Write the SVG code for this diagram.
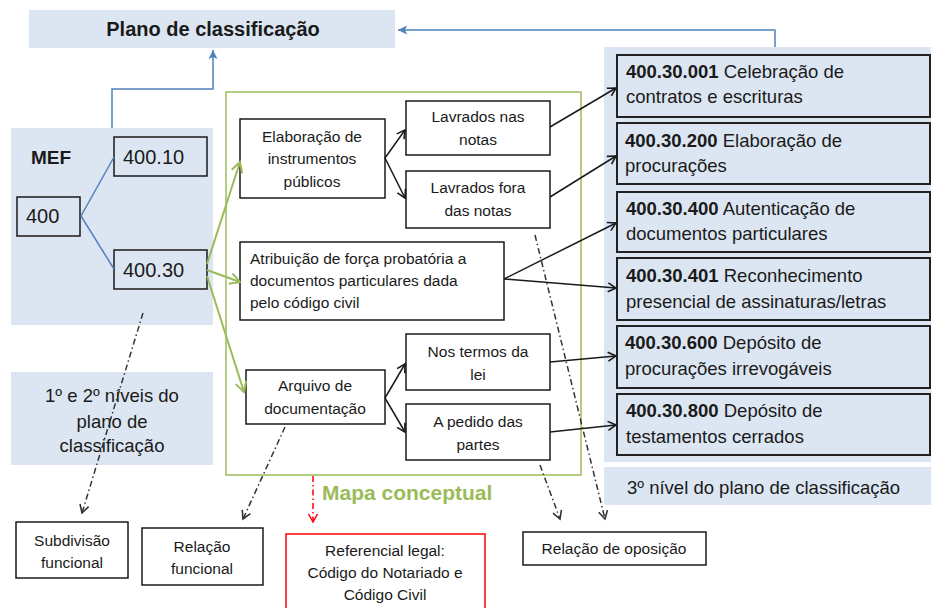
<svg xmlns="http://www.w3.org/2000/svg" width="931" height="608" viewBox="0 0 931 608">
<defs>
<style>
.panel{fill:#DCE6F2;stroke:none}
.box{fill:#fff;stroke:#1a1a1a;stroke-width:1.5}
.rbox{fill:none;stroke:#222;stroke-width:2}
.t{font-family:"Liberation Sans",Arial,sans-serif;font-size:15.5px;fill:#1a1a1a}
.tc{text-anchor:middle}
.r{font-family:"Liberation Sans",Arial,sans-serif;font-size:18.5px;fill:#1a1a1a}
.b{font-weight:bold}
.blk{stroke:#1a1a1a;stroke-width:1.5;fill:none}
.grn{stroke:#9BBB59;stroke-width:2;fill:none}
.blu{stroke:#4F81BD;stroke-width:1.5;fill:none}
.dd{stroke:#333;stroke-width:1.5;fill:none;stroke-dasharray:6,3,1.5,3}
.rd{stroke:#FF0000;stroke-width:1.5;fill:none;stroke-dasharray:6,3,1.5,3}
</style>
<marker id="aBlk" markerUnits="userSpaceOnUse" markerWidth="12" markerHeight="12" refX="10" refY="6" orient="auto"><path d="M2,1.5 L10,6 L2,10.5" fill="none" stroke="#1a1a1a" stroke-width="1.6"/></marker>
<marker id="aGrn" markerUnits="userSpaceOnUse" markerWidth="14" markerHeight="14" refX="12" refY="7" orient="auto"><path d="M2,1.5 L12,7 L2,12.5" fill="none" stroke="#9BBB59" stroke-width="2"/></marker>
<marker id="aBlu" markerUnits="userSpaceOnUse" markerWidth="12" markerHeight="12" refX="10" refY="6" orient="auto"><path d="M1,1.5 L10,6 L1,10.5 L3,6 Z" fill="#4F81BD"/></marker>
<marker id="aDd" markerUnits="userSpaceOnUse" markerWidth="12" markerHeight="12" refX="10" refY="6" orient="auto"><path d="M2,1.5 L10,6 L2,10.5" fill="none" stroke="#333" stroke-width="1.6"/></marker>
<marker id="aRd" markerUnits="userSpaceOnUse" markerWidth="12" markerHeight="12" refX="10" refY="6" orient="auto"><path d="M2,1.5 L10,6 L2,10.5" fill="none" stroke="#FF0000" stroke-width="1.5"/></marker>
</defs>
<rect width="931" height="608" fill="#fff"/>

<g id="plano">
<rect class="panel" x="29" y="10" width="366" height="38"/>
<text class="t b tc" x="213" y="36" style="font-size:20px">Plano de classificação</text>
</g>
<g id="mef-panel">
<rect class="panel" x="11" y="128" width="202" height="197"/>
<text class="t b" x="31" y="164" style="font-size:19px">MEF</text>
</g>
<g id="niveis12">
<rect class="panel" x="11" y="372" width="202" height="93"/>
<text class="r tc" x="112" y="402">1º  e 2º níveis do</text>
<text class="r tc" x="112" y="428">plano de</text>
<text class="r tc" x="112" y="452">classificação</text>
</g>
<g id="nivel3-panel">
<rect class="panel" x="604" y="47" width="327" height="415"/>
</g>
<g id="nivel3-label">
<rect class="panel" x="604" y="467" width="327" height="38"/>
<text class="r" x="627" y="494">3º nível do plano de classificação</text>
</g>

<g id="mapa">
<rect x="226" y="92" width="355" height="383" fill="none" stroke="#9BBB59" stroke-width="1.5"/>
<text class="t b" x="322" y="500" style="font-size:21px;fill:#9BBB59">Mapa conceptual</text>
</g>

<g id="n400"><rect class="box" x="17" y="197" width="63" height="39" style="fill:none"/><text class="t" x="26" y="223" style="font-size:20px">400</text></g>
<g id="n400-10"><rect class="box" x="114" y="137" width="93" height="39" style="fill:none"/><text class="t" x="123" y="164" style="font-size:20px">400.10</text></g>
<g id="n400-30"><rect class="box" x="114" y="250" width="93" height="39" style="fill:none"/><text class="t" x="123" y="277" style="font-size:20px">400.30</text></g>

<g id="elaboracao"><rect class="box" x="240" y="119" width="145" height="79"/>
<text class="t tc" x="312" y="142">Elaboração  de</text><text class="t tc" x="312" y="164">instrumentos</text><text class="t tc" x="312" y="187">públicos</text></g>
<g id="lavrados-nas"><rect class="box" x="406" y="101" width="144" height="54"/>
<text class="t tc" x="478" y="122">Lavrados  nas</text><text class="t tc" x="478" y="145">notas</text></g>
<g id="lavrados-fora"><rect class="box" x="406" y="171" width="144" height="57"/>
<text class="t tc" x="478" y="193">Lavrados  fora</text><text class="t tc" x="478" y="216">das notas</text></g>
<g id="atribuicao"><rect class="box" x="240" y="242" width="264" height="78"/>
<text class="t" x="250" y="264">Atribuição  de  força probatória  a</text><text class="t" x="250" y="286">documentos particulares  dada</text><text class="t" x="250" y="308">pelo  código civil</text></g>
<g id="arquivo"><rect class="box" x="246" y="370" width="139" height="54"/>
<text class="t tc" x="315" y="391">Arquivo  de</text><text class="t tc" x="315" y="414">documentação</text></g>
<g id="nos-termos"><rect class="box" x="406" y="334" width="144" height="56"/>
<text class="t tc" x="478" y="357">Nos termos  da</text><text class="t tc" x="478" y="380">lei</text></g>
<g id="a-pedido"><rect class="box" x="406" y="404" width="144" height="56"/>
<text class="t tc" x="478" y="427">A  pedido das</text><text class="t tc" x="478" y="450">partes</text></g>

<g id="c001"><rect class="rbox" x="617" y="55" width="313" height="62"/>
<text class="r" x="626" y="78"><tspan class="b">400.30.001</tspan> Celebração de</text><text class="r" x="626" y="103">contratos e  escrituras</text></g>
<g id="c200"><rect class="rbox" x="617" y="123" width="313" height="61"/>
<text class="r" x="625" y="147"><tspan class="b">400.30.200</tspan> Elaboração de</text><text class="r" x="625" y="172">procurações</text></g>
<g id="c400"><rect class="rbox" x="617" y="192" width="313" height="60"/>
<text class="r" x="626" y="215"><tspan class="b">400.30.400</tspan> Autenticação de</text><text class="r" x="626" y="240">documentos particulares</text></g>
<g id="c401"><rect class="rbox" x="617" y="258" width="313" height="62"/>
<text class="r" x="626" y="282"><tspan class="b">400.30.401</tspan> Reconhecimento</text><text class="r" x="626" y="308">presencial de assinaturas/letras</text></g>
<g id="c600"><rect class="rbox" x="617" y="326" width="313" height="62"/>
<text class="r" x="625" y="349"><tspan class="b">400.30.600</tspan> Depósito de</text><text class="r" x="625" y="375">procurações irrevogáveis</text></g>
<g id="c800"><rect class="rbox" x="617" y="394" width="313" height="61"/>
<text class="r" x="626" y="417"><tspan class="b">400.30.800</tspan> Depósito de</text><text class="r" x="626" y="443">testamentos cerrados</text></g>

<g id="subdivisao"><rect class="box" x="16" y="522" width="112" height="56"/>
<text class="t tc" x="72" y="546">Subdivisão</text><text class="t tc" x="72" y="568">funcional</text></g>
<g id="relacao-funcional"><rect class="box" x="142" y="528" width="121" height="57"/>
<text class="t tc" x="202" y="552">Relação</text><text class="t tc" x="202" y="574">funcional</text></g>
<g id="referencial"><rect x="286" y="534" width="199" height="80" fill="#fff" stroke="#FF0000" stroke-width="1.5"/>
<text class="t tc" x="385" y="556">Referencial  legal:</text><text class="t tc" x="385" y="578">Código do Notariado  e</text><text class="t tc" x="385" y="600">Código Civil</text></g>
<g id="oposicao"><rect class="box" x="523" y="532" width="183" height="33"/>
<text class="t tc" x="614" y="554">Relação  de oposição</text></g>

<g id="connectors">
<polyline class="blu" points="112,128 112,89 213,89 213,50" marker-end="url(#aBlu)"/>
<polyline class="blu" points="775,47 775,30 398,30" marker-end="url(#aBlu)"/>
<line class="blu" x1="81" y1="216" x2="114" y2="157"/>
<line class="blu" x1="81" y1="216" x2="114" y2="269"/>
<line class="grn" x1="207" y1="264" x2="240" y2="162" marker-end="url(#aGrn)"/>
<line class="grn" x1="207" y1="270" x2="240" y2="282" marker-end="url(#aGrn)"/>
<line class="grn" x1="207" y1="276" x2="244" y2="392" marker-end="url(#aGrn)"/>
<line class="blk" x1="385" y1="158" x2="405" y2="130" marker-end="url(#aBlk)"/>
<line class="blk" x1="385" y1="158" x2="405" y2="198" marker-end="url(#aBlk)"/>
<line class="blk" x1="385" y1="398" x2="405" y2="364" marker-end="url(#aBlk)"/>
<line class="blk" x1="385" y1="398" x2="405" y2="432" marker-end="url(#aBlk)"/>
<line class="blk" x1="550" y1="127" x2="616" y2="88" marker-end="url(#aBlk)"/>
<line class="blk" x1="550" y1="197" x2="616" y2="156" marker-end="url(#aBlk)"/>
<line class="blk" x1="504" y1="279" x2="616" y2="223" marker-end="url(#aBlk)"/>
<line class="blk" x1="504" y1="279" x2="616" y2="288" marker-end="url(#aBlk)"/>
<line class="blk" x1="550" y1="362" x2="616" y2="356" marker-end="url(#aBlk)"/>
<line class="blk" x1="550" y1="432" x2="616" y2="425" marker-end="url(#aBlk)"/>
<line class="dd" x1="143" y1="313" x2="82" y2="513" marker-end="url(#aDd)"/>
<line class="dd" x1="285" y1="427" x2="243" y2="519" marker-end="url(#aDd)"/>
<line class="dd" x1="535" y1="235" x2="605" y2="519" marker-end="url(#aDd)"/>
<line class="dd" x1="540" y1="465" x2="560" y2="519" marker-end="url(#aDd)"/>
<line class="rd" x1="313" y1="476" x2="313" y2="522" marker-end="url(#aRd)"/>
</g>
</svg>
